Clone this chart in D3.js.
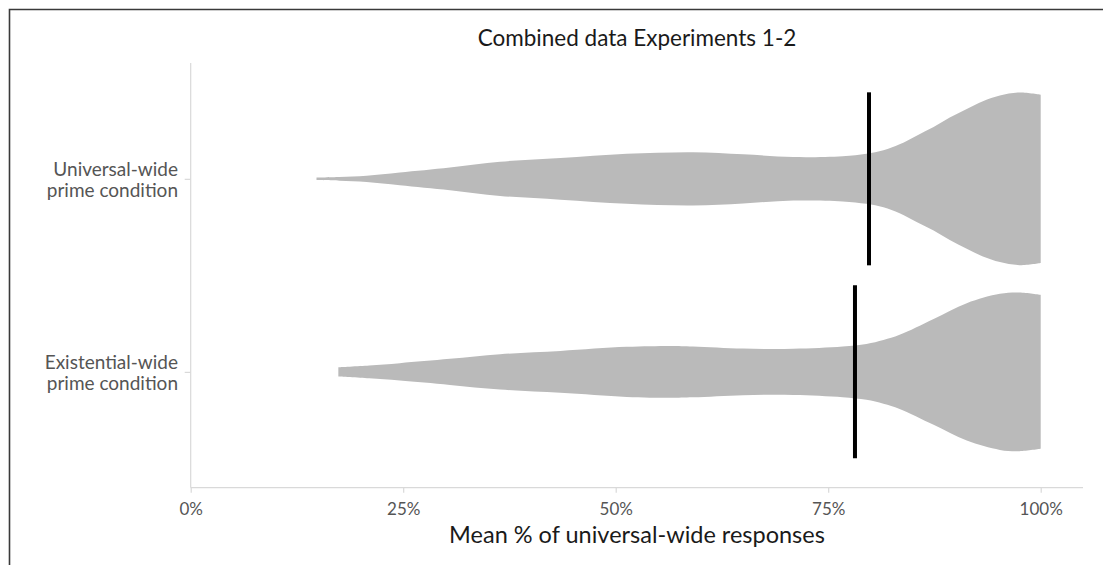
<!DOCTYPE html>
<html>
<head>
<meta charset="utf-8">
<script src="https://cdn.jsdelivr.net/npm/d3@7"></script>
<style>
  html, body { margin: 0; padding: 0; background: #fff; overflow: hidden; }
  svg { display: block; font-family: Lato, "Open Sans", sans-serif; }
</style>
</head>
<body>
<svg id="chart" width="1103" height="565"></svg>
<script>
// ---- data ----
const categories = ["Universal-wide prime condition", "Existential-wide prime condition"];
const categoryLines = [["Universal-wide", "prime condition"], ["Existential-wide", "prime condition"]];
const medians = [0.798, 0.7815];
// density profile: value (proportion) and relative half-width
const universalX = [0.148, 0.175, 0.207, 0.246, 0.305, 0.364, 0.435, 0.513, 0.591, 0.65, 0.709, 0.767, 0.795, 0.815, 0.834, 0.854, 0.874, 0.893, 0.913, 0.932, 0.952, 0.975, 1.0];
const universalD = [0.014, 0.021, 0.036, 0.073, 0.131, 0.198, 0.241, 0.29, 0.309, 0.285, 0.252, 0.262, 0.29, 0.33, 0.40, 0.50, 0.60, 0.71, 0.81, 0.90, 0.965, 1.0, 0.975];
const existentialX = [0.1737, 0.21, 0.246, 0.305, 0.364, 0.435, 0.513, 0.564, 0.591, 0.65, 0.709, 0.767, 0.795, 0.815, 0.834, 0.874, 0.913, 0.952, 0.975, 1.0];
const existentialD = [0.054, 0.075, 0.101, 0.151, 0.205, 0.243, 0.29, 0.301, 0.295, 0.27, 0.267, 0.293, 0.324, 0.37, 0.43, 0.614, 0.796, 0.904, 0.919, 0.892];
const xTicks = [0, 0.25, 0.5, 0.75, 1];
const titleText = "Combined data Experiments 1-2";
const xTitle = "Mean % of universal-wide responses";

// ---- layout ----
const svg = d3.select("#chart");
const W = 1103, H = 565;
const plotLeft = 190.7, plotRight = 1083, plotTop = 63, plotBottom = 487.7;
const x = d3.scaleLinear().domain([0, 1]).range([plotLeft, 1040.7]);
const y = d3.scalePoint().domain(categories).range([plotTop, plotBottom]).padding(0.6);
const halfW = d3.scaleLinear().domain([0, 1]).range([0, 86.3]);

const grey = "#d9d9d9";

// border (left + top)
svg.append("path")
  .attr("d", `M9.5,${H} L9.5,9.5 L${W},9.5`)
  .attr("fill", "none").attr("stroke", "#3a3a3a").attr("stroke-width", 1.6);

// title
svg.append("text").attr("x", 637).attr("y", 46).attr("text-anchor", "middle")
  .attr("font-size", 22.5).attr("fill", "#1a1a1a").text(titleText);

// axes lines
svg.append("line").attr("x1", plotLeft).attr("x2", plotLeft).attr("y1", plotTop).attr("y2", plotBottom)
  .attr("stroke", grey).attr("stroke-width", 1.2);
svg.append("line").attr("x1", plotLeft).attr("x2", plotRight).attr("y1", plotBottom).attr("y2", plotBottom)
  .attr("stroke", grey).attr("stroke-width", 1.2);

// x axis
const xAxis = d3.axisBottom(x).tickValues(xTicks).tickFormat(d3.format(".0%")).tickSize(5).tickSizeOuter(0);
const gx = svg.append("g").attr("transform", `translate(0,${plotBottom})`).call(xAxis);
gx.select(".domain").remove();
gx.selectAll(".tick line").attr("stroke", grey).attr("stroke-width", 1.2);
gx.selectAll(".tick text").attr("font-family", "Lato, sans-serif").attr("font-size", 17).attr("fill", "#555").attr("dy", 0).attr("y", 27.5);

// y axis
const yAxis = d3.axisLeft(y).tickSize(6).tickFormat("");
const gy = svg.append("g").attr("transform", `translate(${plotLeft},0)`).call(yAxis);
gy.select(".domain").remove();
gy.selectAll(".tick line").attr("stroke", grey).attr("stroke-width", 1.2);

// y labels (two lines)
categories.forEach((c, i) => {
  const t = svg.append("text").attr("text-anchor", "end").attr("font-size", 19).attr("fill", "#555");
  categoryLines[i].forEach((ln, j) => {
    t.append("tspan").attr("x", 178).attr("y", y(c) - 2.7 + j * 21.3).text(ln);
  });
});

// x title
svg.append("text").attr("x", 637).attr("y", 542.7).attr("text-anchor", "middle")
  .attr("font-size", 23.5).attr("fill", "#1a1a1a").text(xTitle);

// violins
const series = [
  { cat: categories[0], xs: universalX, ds: universalD, med: medians[0] },
  { cat: categories[1], xs: existentialX, ds: existentialD, med: medians[1] }
];
series.forEach(s => {
  const pts = s.xs.map((v, i) => ({ v, d: s.ds[i] }));
  const cy = y(s.cat);
  const area = d3.area()
    .x(p => x(p.v))
    .y0(p => cy - halfW(p.d))
    .y1(p => cy + halfW(p.d))
    .curve(d3.curveCatmullRom.alpha(0.5));
  svg.append("path").attr("d", area(pts)).attr("fill", "#bababa");
  svg.append("line")
    .attr("x1", x(s.med)).attr("x2", x(s.med))
    .attr("y1", cy - 86.5).attr("y2", cy + 86.5)
    .attr("stroke", "#000").attr("stroke-width", 4);
});
</script>
</body>
</html>
